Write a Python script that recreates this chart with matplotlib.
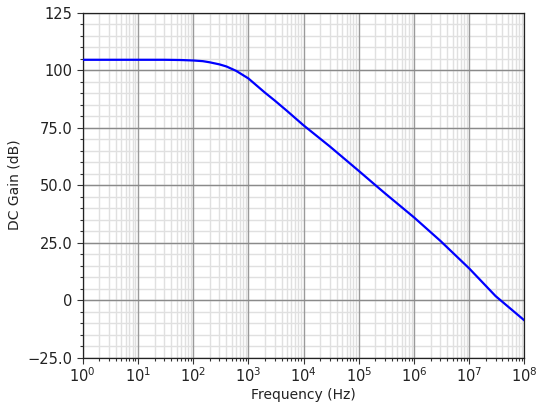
import matplotlib
matplotlib.use("Agg")
import matplotlib.pyplot as plt
from matplotlib.ticker import FixedLocator, LogLocator, NullFormatter, NullLocator

# Data
freq_hz = [1, 10, 30, 60, 100, 150, 200, 300, 400, 600, 1e3, 2e3, 3e3, 5e3,
           1e4, 3e4, 1e5, 2e5, 3e5, 1e6, 3e6, 1e7, 3e7, 1e8]
gain_db = [104.5, 104.5, 104.5, 104.4, 104.2, 103.9, 103.4, 102.5, 101.6, 99.7,
           96.4, 90.2, 86.8, 82.3, 76.0, 66.8, 56.2, 50.0, 46.4, 36.0,
           25.8, 13.8, 1.8, -8.8]

ytick_vals = [-25, 0, 25, 50, 75, 100, 125]
ytick_labels = ["\u221225.0", "0", "25.0", "50.0", "75.0", "100", "125"]

rect = [0.149, 0.121, 0.796, 0.848]
fig = plt.figure(figsize=(5.55, 4.07), dpi=100)

# background axes: minor grid only
axm = fig.add_axes(rect)
axm.set_xscale("log")
axm.set_xlim(1, 1e8)
axm.set_ylim(-25, 125)
axm.xaxis.set_major_locator(NullLocator())
axm.yaxis.set_major_locator(NullLocator())
axm.xaxis.set_minor_locator(LogLocator(base=10, subs=range(2, 10), numticks=100))
axm.yaxis.set_minor_locator(FixedLocator(list(range(-25, 126, 5))))
axm.xaxis.set_minor_formatter(NullFormatter())
axm.yaxis.set_minor_formatter(NullFormatter())
axm.grid(which="minor", color="#e0e0e0", linewidth=1.0)
axm.tick_params(which="both", length=0)
for s in axm.spines.values():
    s.set_visible(False)

# main axes on top
ax = fig.add_axes(rect)
ax.patch.set_alpha(0)
ax.plot(freq_hz, gain_db, color="#0000ff", linewidth=1.6, zorder=3)

ax.set_xscale("log")
ax.set_xlim(1, 1e8)
ax.set_ylim(-25, 125)

ax.xaxis.set_major_locator(LogLocator(base=10, numticks=20))
ax.xaxis.set_minor_locator(LogLocator(base=10, subs=range(2, 10), numticks=100))
ax.xaxis.set_minor_formatter(NullFormatter())
ax.yaxis.set_major_locator(FixedLocator(ytick_vals))
ax.set_yticklabels(ytick_labels)
ax.yaxis.set_minor_locator(FixedLocator(list(range(-25, 126, 5))))

ax.grid(which="major", axis="x", color="#9a9a9a", linewidth=1.0)
ax.grid(which="major", axis="y", color="#8a8a8a", linewidth=1.0)
ax.set_axisbelow(True)

ax.tick_params(which="major", direction="out", length=4, width=0.8,
               labelsize=10.5, colors="#333333", labelcolor="#222222")
ax.tick_params(which="minor", direction="out", length=2, width=0.8, colors="#333333")
ax.tick_params(axis="x", pad=2)

for s in ax.spines.values():
    s.set_color("#222222")
    s.set_linewidth(0.9)

ax.set_xlabel("Frequency (Hz)", fontsize=10, color="#222222", labelpad=2)
ax.set_ylabel("DC Gain (dB)", fontsize=10, color="#222222", labelpad=4)

fig.savefig("out.png", dpi=100)
